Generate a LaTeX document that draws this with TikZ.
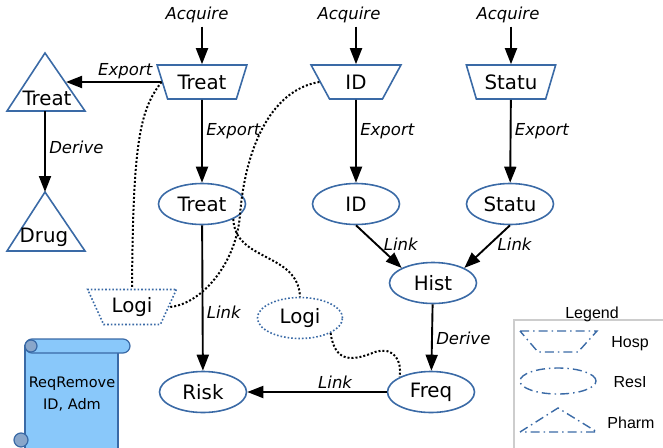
\documentclass[tikz,border=0pt]{standalone}
\usepackage{fontspec}
\setmainfont{DejaVu Sans}
\newfontfamily\legendfont{Liberation Sans}
\usetikzlibrary{shapes.geometric,arrows.meta}
\definecolor{hblue}{RGB}{58,106,166}
\definecolor{scrollblue}{RGB}{137,200,250}
\definecolor{legendgray}{RGB}{205,205,205}

\begin{document}
\begin{tikzpicture}[x=1pt,y=-1pt,
  txt/.style={font=\fontsize{19.8}{22}\selectfont},
  lbl/.style={font=\fontsize{16.5}{19}\selectfont\itshape},
  hosp/.style={draw=hblue,line width=1.6pt,trapezium,shape border rotate=180,
    trapezium stretches=true,trapezium angle=63,minimum width=90pt,
    minimum height=34pt,inner sep=0pt,txt},
  resl/.style={draw=hblue,line width=1.6pt,ellipse,minimum width=87pt,
    minimum height=41pt,inner sep=0pt,txt},
  pharm/.style={draw=hblue,line width=1.6pt,line join=miter},
  flow/.style={-{Triangle[length=16pt,width=12pt]},line width=1.9pt},
  logi/.style={dash pattern=on 2pt off 2pt,line width=2pt},
  blued/.style={draw=hblue,dash pattern=on 1.6pt off 2pt,line width=1.6pt},
  legdash/.style={draw=hblue,line width=1.4pt,
    dash pattern=on 9pt off 4pt on 1.5pt off 4pt},
  legtxt/.style={font=\legendfont\fontsize{16}{18}\selectfont}]
\useasboundingbox (0,0) rectangle (663,447);

% sources
\node[lbl] (acq1) at (197,15) {Acquire};
\node[lbl] (acq2) at (349,15) {Acquire};
\node[lbl] (acq3) at (508,15) {Acquire};

\node[hosp] (trt) at (202,82) {Treat};
\node[hosp] (idt) at (356,82) {ID};
\node[hosp] (stt) at (511,82) {Statu};

\draw[flow] (acq1.south -| trt.north) -- (trt.north);
\draw[flow] (acq2.south -| idt.north) -- (idt.north);
\draw[flow] (acq3.south -| stt.north) -- (stt.north);

% pharmacy side
\coordinate (trtop) at (45,53);
\coordinate (trbase) at (45,111);
\coordinate (trin) at (66,82);
\draw[pharm] (trtop) -- (85,111) -- (7,111) -- cycle;
\node[txt] (trtri) at (47,98) {Treat};
\coordinate (drugtop) at (45,192);
\draw[pharm] (drugtop) -- (85,251) -- (7,251) -- cycle;
\node[txt] (drug) at (44,237) {Drug};

\draw[flow] (trt.west) -- node[lbl,pos=0.38,above=-1pt] {Export} (trin);
\draw[flow] (trbase) -- node[lbl,pos=0.45,right] {Derive} (drugtop);

% resources
\node[resl] (tre) at (202,204) {Treat};
\node[resl] (ide) at (356,204) {ID};
\node[resl] (ste) at (510,204) {Statu};
\node[resl] (hist) at (433,283) {Hist};
\node[resl] (freq) at (431,392) {Freq};
\node[resl] (risk) at (203,392) {Risk};

\draw[flow] (trt) -- node[lbl,pos=0.38,right] {Export} (tre);
\draw[flow] (idt) -- node[lbl,pos=0.38,right] {Export} (ide);
\draw[flow] (stt) -- node[lbl,pos=0.38,right] {Export} (ste);
\draw[flow] (ide.south) -- node[lbl,pos=0.45,right=3pt] {Link} (hist.north west);
\draw[flow] (ste.south) -- node[lbl,pos=0.45,right=4pt] {Link} (hist.north east);
\draw[flow] (hist) -- node[lbl,pos=0.52,right] {Derive} (freq);
\draw[flow] (tre) -- node[lbl,pos=0.6,right] {Link} (risk);
\draw[flow] (freq) -- node[lbl,pos=0.37,above=-1pt] {Link} (risk);

% logic
\node[blued,trapezium,shape border rotate=180,trapezium stretches=true,
  trapezium angle=59,minimum width=89pt,minimum height=35pt,inner sep=0pt,txt]
  (logt) at (132,307) {Logi};
\node[blued,ellipse,minimum width=85pt,minimum height=41pt,inner sep=0pt,txt]
  (loge) at (300,318) {Logi};

\draw[logi] (trt.west) .. controls (140,110) and (133,140) .. (logt.north);
\draw[logi] (idt.west) .. controls (270,90) and (245,150) .. (240,215)
  .. controls (236,265) and (200,305) .. (logt.east);
\draw[logi] (tre.south east) .. controls (235,262) and (298,252) .. (loge.north);
\draw[logi] (loge.south east) .. controls (335,365) and (355,360) .. (375,352)
  .. controls (395,346) and (402,362) .. (freq.north west);

% requirement scroll
\filldraw[fill=scrollblue,draw=hblue,line width=1.2pt] (25,346) rectangle (118,452);
\filldraw[fill=scrollblue,draw=hblue,line width=1.2pt,rounded corners=7pt]
  (25,339) rectangle (130,353);
\filldraw[fill=hblue!60,draw=hblue,line width=1.2pt] (31,346) circle (6pt);
\filldraw[fill=hblue!60,draw=hblue,line width=1.2pt] (21,440) circle (7pt);
\node[align=center,font=\fontsize{14.5}{22}\selectfont] (req) at (72,394)
  {ReqRemove\\ID, Adm};

% legend
\draw[legendgray,line width=1.6pt] (514,460) -- (514,320) -- (680,320);
\node[legtxt] (legt) at (592,314) {Legend};
\draw[legdash] (520,331) -- (597,331) -- (578,352) -- (538,352) -- cycle;
\node[legtxt] (lhosp) at (630,344) {Hosp};
\draw[legdash] (558,381) ellipse (38pt and 13pt);
\node[legtxt] (lres) at (630,382) {ResI};
\draw[legdash] (520,432) -- (558,408) -- (597,432) -- cycle;
\node[legtxt] (lpharm) at (631,423) {Pharm};
\end{tikzpicture}
\end{document}
